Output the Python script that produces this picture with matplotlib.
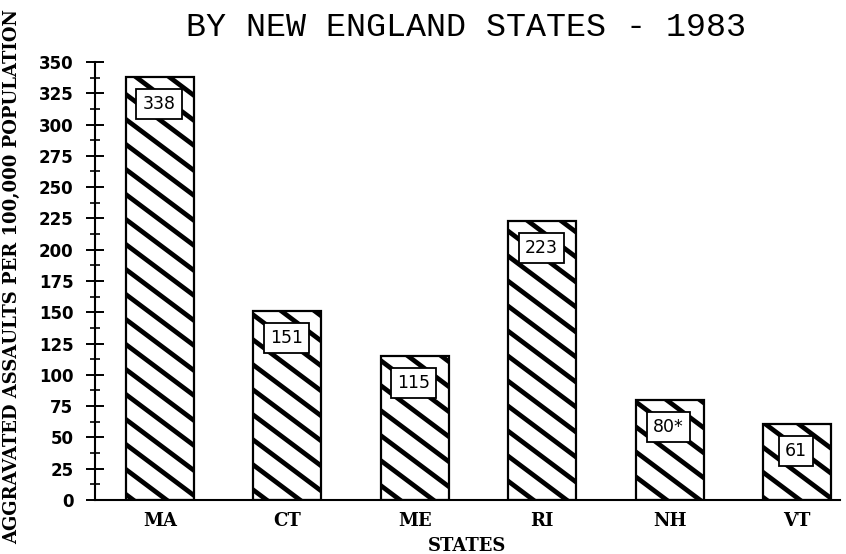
import matplotlib
matplotlib.use('Agg')
import matplotlib.pyplot as plt
import matplotlib.hatch as mhatch
from matplotlib.path import Path
from matplotlib.ticker import MultipleLocator
import numpy as np

states = ['MA', 'CT', 'ME', 'RI', 'NH', 'VT']
assaults = [338, 151, 115, 223, 80, 61]
value_labels = ['338', '151', '115', '223', '80*', '61']


# the scanned chart has shallower stripes (~37 deg) than the 45 deg of '\\'
class ShallowSouthEast(mhatch.HatchPatternBase):
    def __init__(self, hatch, density):
        self.num_lines = 8 if '\\' in hatch else 0
        self.num_vertices = self.num_lines * 2

    def set_vertices_and_codes(self, vertices, codes):
        y0 = np.linspace(0, 1.75, self.num_lines)
        vertices[0::2, 0] = -0.1
        vertices[0::2, 1] = y0 + 0.075
        vertices[1::2, 0] = 1.1
        vertices[1::2, 1] = y0 - 0.825
        codes[0::2] = Path.MOVETO
        codes[1::2] = Path.LINETO


mhatch._hatch_types = [ShallowSouthEast if t is mhatch.SouthEastHatch else t
                       for t in mhatch._hatch_types]

plt.rcParams['hatch.linewidth'] = 3.4
plt.rcParams['hatch.color'] = 'black'

fig = plt.figure(figsize=(8.46, 5.54), dpi=100)
ax = fig.add_axes([0.1123, 0.0975, 0.8806, 0.7906])

x = np.arange(len(states))
bars = ax.bar(x, assaults, width=0.534, color='white', edgecolor='black',
              linewidth=1.6, hatch='\\')

for xi, val, lab in zip(x, assaults, value_labels):
    ax.annotate(lab, (xi, val), xytext=(-1, -27), textcoords='offset pixels',
                ha='center', va='center', fontsize=12.5, family='DejaVu Sans',
                bbox=dict(boxstyle='square,pad=0.35', fc='white', ec='black', lw=1.3))

ax.set_xlim(-0.51, 5.338)
ax.set_ylim(0, 350)
ax.yaxis.set_major_locator(MultipleLocator(25))
ax.yaxis.set_minor_locator(MultipleLocator(12.5))
ax.tick_params(axis='y', which='major', direction='inout', length=13, width=1.4,
               pad=9, labelsize=12)
ax.tick_params(axis='y', which='minor', direction='inout', length=6.5, width=1.2)
for t in ax.get_yticklabels():
    t.set_fontweight('bold')

ax.set_xticks(x)
ax.set_xticklabels(states, family='DejaVu Serif', fontweight='bold', fontsize=13)
ax.tick_params(axis='x', length=0, pad=9)

for s in ['top', 'right']:
    ax.spines[s].set_visible(False)
for s in ['left', 'bottom']:
    ax.spines[s].set_linewidth(1.5)

ax.set_xlabel('STATES', family='DejaVu Serif', fontweight='bold', fontsize=13,
              labelpad=5)

fig.text(0.551, 1 - 27 / 554, 'BY NEW ENGLAND STATES - 1983',
         family='Liberation Mono', fontsize=24, ha='center', va='center')
fig.text(12 / 846, 0.5, 'AGGRAVATED ASSAULTS PER 100,000 POPULATION',
         family='DejaVu Serif', fontweight='bold', fontsize=13,
         rotation=90, ha='center', va='center')

fig.savefig('out.png', dpi=100)
